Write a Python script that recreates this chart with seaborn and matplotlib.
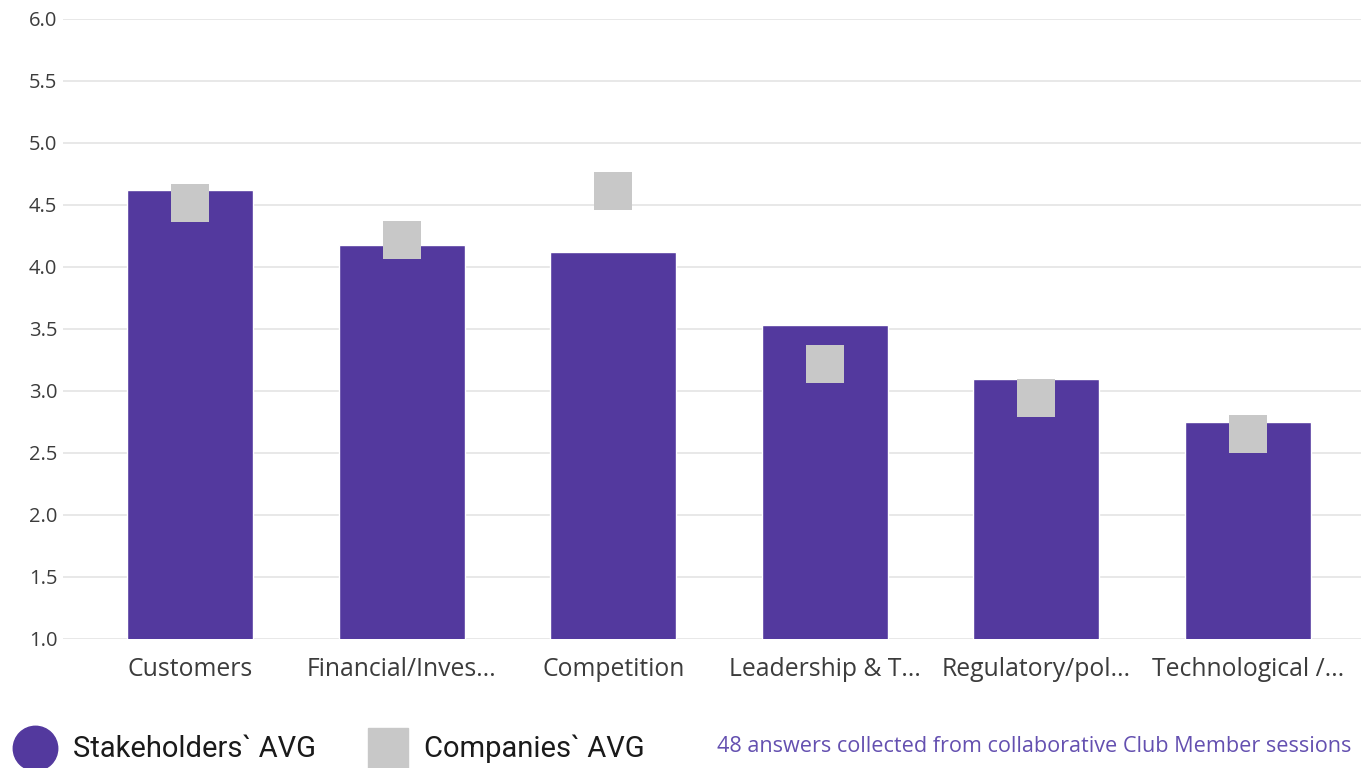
import matplotlib
matplotlib.use("Agg")
import matplotlib.pyplot as plt
from matplotlib.lines import Line2D
import pandas as pd
import seaborn as sns

categories = ["Customers", "Financial/Inves...", "Competition",
              "Leadership & T...", "Regulatory/pol...", "Technological /..."]
stakeholders_avg = [4.62, 4.18, 4.12, 3.53, 3.10, 2.75]
companies_avg = [4.52, 4.22, 4.61, 3.22, 2.94, 2.65]
y_ticks = [1.0, 1.5, 2.0, 2.5, 3.0, 3.5, 4.0, 4.5, 5.0, 5.5, 6.0]

PURPLE = "#53399e"
GREY = "#c8c8c8"
GRID = "#e6e6e6"
TICK = "#3c3c3c"

df = pd.DataFrame({"category": categories,
                   "stakeholders": stakeholders_avg,
                   "companies": companies_avg})

sns.set_theme(style="white")
plt.rcParams["font.family"] = ["Open Sans", "DejaVu Sans"]

W, H = 1361, 768
fig = plt.figure(figsize=(W / 100, H / 100), dpi=100)
ax = fig.add_axes([63 / W, (H - 639) / H, (1375 - 63) / W, (639 - 19) / H])

sns.barplot(data=df, x="category", y="stakeholders", color=PURPLE,
            width=0.595, saturation=1, ax=ax, zorder=2)
sns.scatterplot(data=df, x="category", y="companies", marker="s",
                s=28 ** 2, color=GREY, linewidth=0, ax=ax, zorder=3)

ax.set_ylim(1.0, 6.0)
ax.set_xlim(-0.6, 5.6)
ax.set_yticks(y_ticks)
ax.set_yticklabels([f"{v:.1f}" for v in y_ticks])
ax.yaxis.grid(True, color=GRID, linewidth=1.3, zorder=0)
ax.xaxis.grid(False)
ax.set_axisbelow(True)
for s in ax.spines.values():
    s.set_visible(False)
ax.set_xlabel("")
ax.set_ylabel("")
ax.tick_params(axis="y", length=0, pad=4, labelsize=14.5, labelcolor=TICK)
ax.tick_params(axis="x", length=0, pad=13, labelsize=17.8, labelcolor=TICK)

# Legend row beneath the chart
fig.add_artist(Line2D([35 / W], [(H - 748) / H], marker="o", markersize=32,
                      color=PURPLE, linestyle="none", transform=fig.transFigure))
fig.text(73 / W, (H - 749) / H, "Stakeholders` AVG", fontsize=21,
         family=["Roboto", "DejaVu Sans"], color="#1a1a1a", va="center")
fig.add_artist(Line2D([388 / W], [(H - 748) / H], marker="s", markersize=29,
                      color=GREY, linestyle="none", transform=fig.transFigure))
fig.text(424 / W, (H - 749) / H, "Companies` AVG", fontsize=21,
         family=["Roboto", "DejaVu Sans"], color="#1a1a1a", va="center")
fig.text(717 / W, (H - 747) / H,
         "48 answers collected from collaborative Club Member sessions",
         fontsize=15.6, color="#6450b0", va="center")

fig.savefig("out.png", dpi=100)
